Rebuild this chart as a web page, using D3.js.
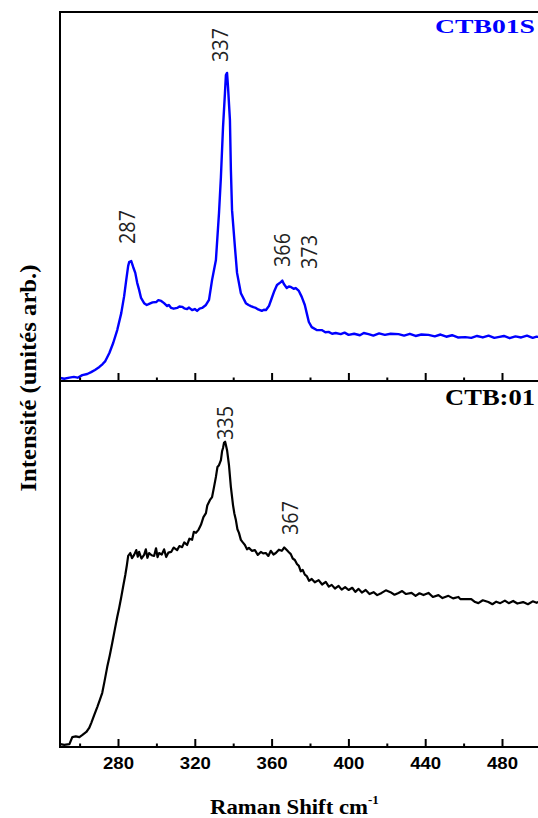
<!DOCTYPE html>
<html><head><meta charset="utf-8">
<script src="https://cdn.jsdelivr.net/npm/d3@7"></script>
<style>html,body{margin:0;padding:0;background:#fff;}svg{display:block;}</style>
</head><body>
<svg id="c" width="538" height="818"></svg>
<script>
// ---- data ----
const blueSpectrum = [[250,0.8],[252,0.6],[254.7,0.9],[257,1.1],[259,0.9],[261.4,1.6],[264,1.9],[266,2.4],[268,3.0],[270.3,3.8],[272,4.6],[273.4,5.4],[275.5,7.6],[277.5,10.3],[279.6,13.8],[281.7,18.4],[283.2,23.0],[284.3,27.4],[285.3,31.2],[285.8,32.2],[286.9,32.5],[287.9,30.9],[289,29.3],[290,26.6],[291,24.7],[292,22.5],[293.6,21.1],[295,20.6],[296.2,20.9],[298,21.3],[299.9,21.4],[301,21.9],[302.5,21.7],[304,21.1],[305.6,20.3],[306.5,20.6],[307.7,19.8],[309,19.6],[310.8,19.8],[312,20.2],[313.4,20.1],[314.5,19.7],[316,19.5],[317,19.9],[318.6,19.2],[320,19.5],[321.2,19.0],[322.5,19.6],[323.8,19.8],[325.8,20.6],[327.4,22.0],[329,27.4],[331,32.8],[332.6,45.5],[333.6,55.3],[334.7,68.8],[335.7,78.0],[336.2,82.9],[336.8,83.5],[337.3,79.7],[338.3,70.7],[338.8,57.2],[339.4,46.3],[340.9,36.3],[342,29.3],[344,23.8],[346.6,21.1],[348,20.6],[349.2,20.3],[350.5,20.0],[351.8,19.8],[353,19.4],[354.9,19.0],[356,19.3],[357,19.2],[358.6,20.3],[360.1,22.5],[361.2,24.1],[362.8,26.0],[364.8,26.8],[365.6,27.2],[366.4,26.3],[367.9,25.2],[369,25.6],[370,25.5],[371.5,25.0],[372.6,25.2],[374.2,24.4],[375.7,22.8],[377.3,20.6],[378.3,18.4],[379.4,16.0],[380.9,14.6],[383.5,13.8],[386.1,13.8],[388,13.2],[389.7,13.3],[391.5,12.8],[393.4,13.0],[396,12.7],[398,13.1],[400.1,12.5],[403,12.8],[406,12.4],[408,13.0],[410.5,12.7],[413,12.3],[416,12.9],[419,12.5],[422,12.8],[426.1,12.7],[429,12.3],[432,12.8],[435,12.2],[438,12.6],[441.7,12.5],[445,12.1],[448,12.6],[451,12.0],[454,12.4],[457,11.8],[460.9,11.9],[464,11.7],[467,12.2],[470,11.8],[473,12.3],[476,11.7],[478,11.9],[481,12.2],[484,11.6],[487,12.1],[490,11.8],[493,12.3],[496,11.7],[498,12.0],[500,11.9]];

const blackSpectrum = [[250,0.8],[252,0.6],[254.7,0.8],[256.2,2.7],[258,2.9],[259.9,2.7],[261.5,3.3],[263.5,4.1],[265,5.2],[266.1,6.6],[267.5,8.6],[269.2,10.9],[270.5,12.8],[271.8,14.8],[273,18.0],[274.4,21.9],[275.7,25.0],[277,28.4],[278.3,32.0],[279.6,35.5],[280.6,38.0],[281.7,41.0],[282.8,44.2],[283.8,47.0],[284.6,49.6],[285.3,52.2],[286.4,53.0],[287.3,51.6],[288.4,52.5],[289.5,53.8],[290.3,52.0],[291,53.3],[292.2,51.5],[293.6,52.5],[294.5,54.0],[295.3,51.7],[296.2,53.0],[297.5,52.4],[298.8,52.2],[299.8,54.3],[300.6,51.9],[301.4,53.0],[302.8,52.6],[304,54.0],[305.1,51.9],[306.2,53.1],[307.7,53.3],[309,54.5],[310.8,53.8],[312,54.9],[313.4,54.6],[314.5,55.9],[316,55.2],[317.2,56.9],[318.6,56.6],[319.5,58.8],[320.6,58.5],[322,59.4],[323.2,60.7],[324.5,62.8],[325.8,63.9],[326.5,66.0],[327.9,67.5],[329,68.3],[330,71.0],[331,73.8],[331.8,76.5],[332.6,77.0],[333.6,78.4],[334.2,80.8],[334.7,81.7],[335.2,83.1],[335.8,83.4],[336.2,82.5],[336.8,81.1],[337.8,77.0],[338.8,71.0],[339.9,66.1],[340.6,63.8],[341.4,62.0],[342.2,59.5],[343,58.5],[344,56.6],[345,55.9],[346.1,55.2],[347.2,54.0],[348.2,54.4],[349.7,53.6],[351.3,53.8],[352.8,52.5],[354.4,53.3],[355.6,52.9],[357,53.0],[358.3,52.2],[359.6,53.6],[361,52.6],[362.2,53.0],[363.8,53.9],[365.3,53.6],[366.6,54.5],[367.9,53.8],[369,53.2],[370,52.7],[371,51.5],[372.1,51.1],[373.2,50.0],[374.2,49.5],[375.2,48.0],[376.2,48.4],[377.3,47.1],[378.3,46.7],[379.5,45.4],[380.9,45.9],[382.5,45.0],[384.5,45.6],[386.3,44.4],[388.2,45.1],[389.8,43.8],[391.3,44.3],[393,43.3],[394.9,44.0],[396.5,43.0],[398.3,43.7],[400.1,42.9],[402,43.5],[403.6,42.4],[405.3,43.2],[407,42.2],[409,42.9],[411,41.8],[413.1,42.3],[415,41.5],[417.3,42.1],[419.5,42.8],[421.9,42.3],[424,41.6],[426.1,42.1],[428,42.6],[430,41.8],[432.9,42.1],[435,41.3],[437,42.0],[439.1,41.5],[441.7,42.1],[444,41.0],[446.9,41.5],[449,40.7],[452.1,41.3],[454.5,40.6],[457.3,41.0],[458.3,40.4],[461,40.4],[464,40.4],[466,39.6],[467.7,39.3],[470,40.1],[472.9,39.6],[475,39.0],[477,39.7],[479.1,39.3],[481.5,40.0],[483.5,39.3],[485.8,39.9],[488,39.2],[491,39.6],[493.5,39.0],[496,39.8],[498,39.4],[500,39.9]];

const majorTicks = [280, 320, 360, 400, 440, 480];
const minorTicks = [260, 300, 340, 380, 420, 460, 500];
const topPeaks = [{label:"287", x:287, y:32.5}, {label:"337", x:337, y:83.5}, {label:"366", x:366, y:27.2}, {label:"373", x:373, y:25.2}];
const bottomPeaks = [{label:"335", x:335, y:83.4}, {label:"367", x:367, y:54.5}];
const topName = "CTB01S";
const bottomName = "CTB:01";

// ---- layout ----
const svg = d3.select("#c");
const L = 60, T = 12, M = 381, B = 747;
const x = d3.scaleLinear().domain([250, 500]).range([60.4, 540.4]);
const yTop = d3.scaleLinear().domain([0, 100]).range([M, T]);
const yBot = d3.scaleLinear().domain([0, 100]).range([B, M]);

// curves
const lineTop = d3.line().x(d => x(d[0])).y(d => yTop(d[1]));
const lineBot = d3.line().x(d => x(d[0])).y(d => yBot(d[1]));
svg.append("path").attr("d", lineTop(blueSpectrum)).attr("fill", "none").attr("stroke", "#0000ff").attr("stroke-width", 2.4).attr("stroke-linejoin", "round");
svg.append("path").attr("d", lineBot(blackSpectrum)).attr("fill", "none").attr("stroke", "#000").attr("stroke-width", 2.2).attr("stroke-linejoin", "round");

// axes (ticks inside, pointing up)
function drawAxis(yPos, labels) {
  const gMinor = svg.append("g").attr("transform", `translate(0,${yPos})`)
    .call(d3.axisBottom(x).tickValues(minorTicks).tickSize(-3.5).tickFormat(""));
  const gMajor = svg.append("g").attr("transform", `translate(0,${yPos})`)
    .call(d3.axisBottom(x).tickValues(majorTicks).tickSize(-8).tickPadding(10).tickFormat(labels ? d3.format("d") : ""));
  [gMinor, gMajor].forEach(g => {
    g.select(".domain").remove();
    g.selectAll("line").attr("stroke", "#000").attr("stroke-width", 2);
  });
  if (labels) {
    gMajor.selectAll("text").attr("font-family", "Liberation Sans, Arial, sans-serif")
      .attr("font-weight", "bold").attr("font-size", 16.5).attr("fill", "#000")
      .attr("dy", "0.71em").attr("textLength", 31).attr("lengthAdjust", "spacingAndGlyphs")
      .attr("x", -15.5).attr("text-anchor", "start");
  }
}
drawAxis(M, false);
drawAxis(B, true);

// frame
svg.append("line").attr("x1", L).attr("x2", L).attr("y1", T - 1).attr("y2", B + 1).attr("stroke", "#000").attr("stroke-width", 2);
[T, M, B].forEach(yy => svg.append("line").attr("x1", L - 1).attr("x2", 540).attr("y1", yy).attr("y2", yy).attr("stroke", "#000").attr("stroke-width", 2));

// peak labels (rotated)
function peakLabels(peaks, offsets) {
  peaks.forEach((p, i) => {
    const o = offsets[i];
    svg.append("text").text(p.label)
      .attr("transform", `translate(${o[0]},${o[1]}) rotate(-90)`)
      .attr("font-family", "Open Sans, sans-serif").attr("font-size", 22).attr("fill", "#222")
      .attr("textLength", 34).attr("lengthAdjust", "spacingAndGlyphs");
  });
}
peakLabels(topPeaks, [[135, 244], [228, 62], [290, 267], [317, 269]]);
peakLabels(bottomPeaks, [[233, 440], [298, 535]]);

// sample names
svg.append("text").text(topName).attr("x", 535).attr("y", 33).attr("text-anchor", "end")
  .attr("font-family", "Liberation Serif, Times New Roman, serif").attr("font-weight", "bold")
  .attr("font-size", 19).attr("fill", "#0000ff").attr("textLength", 100).attr("lengthAdjust", "spacingAndGlyphs");
svg.append("text").text(bottomName).attr("x", 535).attr("y", 405).attr("text-anchor", "end")
  .attr("font-family", "Liberation Serif, Times New Roman, serif").attr("font-weight", "bold")
  .attr("font-size", 24).attr("fill", "#000").attr("textLength", 90).attr("lengthAdjust", "spacingAndGlyphs");

// axis titles
const xt = svg.append("text").attr("x", 210).attr("y", 814)
  .attr("font-family", "Liberation Serif, Times New Roman, serif").attr("font-weight", "bold")
  .attr("font-size", 22).attr("fill", "#000");
xt.append("tspan").text("Raman Shift cm").attr("textLength", 158).attr("lengthAdjust", "spacingAndGlyphs");
xt.append("tspan").text("-1").attr("font-size", 13).attr("dy", -10);

svg.append("text").text("Intensité (unités arb.)")
  .attr("transform", "translate(36,378) rotate(-90)").attr("text-anchor", "middle")
  .attr("font-family", "Liberation Serif, Times New Roman, serif").attr("font-weight", "bold")
  .attr("font-size", 24).attr("fill", "#000").attr("textLength", 227).attr("lengthAdjust", "spacingAndGlyphs");
</script>
</body></html>
